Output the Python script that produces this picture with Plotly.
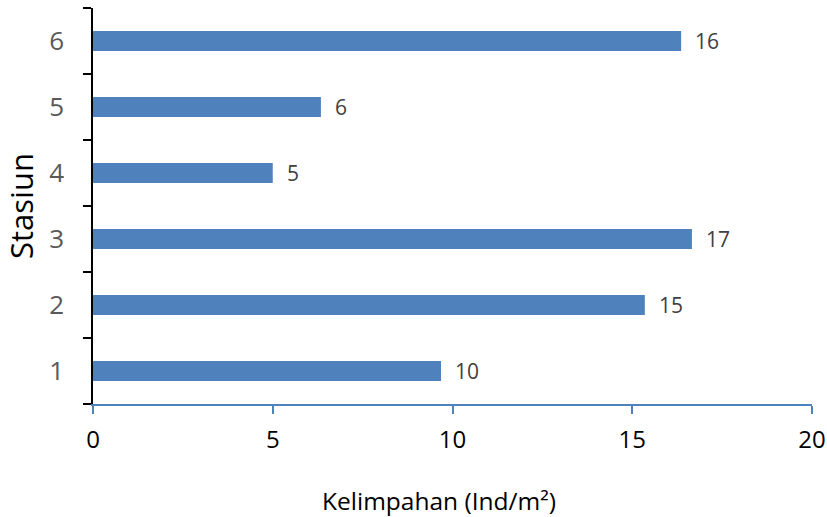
import plotly.graph_objects as go

stations = [1, 2, 3, 4, 5, 6]
values = [9.68, 15.35, 16.66, 5.0, 6.34, 16.36]
labels = ["10", "15", "17", "5", "6", "16"]
x_ticks = [0, 5, 10, 15, 20]

BAR = "#4F81BD"
FONT = "Open Sans, Liberation Sans, sans-serif"

fig = go.Figure()
fig.add_trace(go.Bar(
    y=stations, x=values, orientation="h",
    marker=dict(color=BAR, line=dict(width=0)),
    width=0.3, hoverinfo="skip",
))

for s, v, t in zip(stations, values, labels):
    fig.add_annotation(x=v, y=s, text=t, showarrow=False, xanchor="left",
                       xshift=12, font=dict(family=FONT, size=21, color="#404040"))

fig.add_annotation(x=0.481, y=-0.243, xref="paper", yref="paper",
                   text="Kelimpahan (Ind/m²)", showarrow=False,
                   xanchor="center", yanchor="middle", borderpad=0,
                   font=dict(family=FONT, size=24.5, color="black"))

fig.update_layout(
    width=827, height=517,
    margin=dict(l=93, r=15, t=8, b=113),
    plot_bgcolor="white", paper_bgcolor="white",
    showlegend=False,
    font=dict(family=FONT),
    xaxis=dict(
        range=[0, 20], tickvals=x_ticks, ticks="outside", ticklen=8, tickwidth=1.5,
        tickcolor=BAR, showline=True, linecolor=BAR, linewidth=1.5,
        showgrid=False, zeroline=False, automargin=False,
        tickfont=dict(size=24, color="black"),
        ticklabelstandoff=5,
    ),
    yaxis=dict(
        range=[0.5, 6.5], tickvals=stations, ticks="", showline=True,
        linecolor="black", linewidth=1.5, showgrid=False, zeroline=False, automargin=False,
        tickfont=dict(size=26, color="#595959"),
        ticklabelstandoff=22,
        minor=dict(ticks="outside", tick0=0.5, dtick=1, ticklen=8, tickwidth=1.5, tickcolor="black", showgrid=False),
        title=dict(text="Stasiun", font=dict(size=31, color="black"), standoff=8),
    ),
)

fig.write_html("out.html")
